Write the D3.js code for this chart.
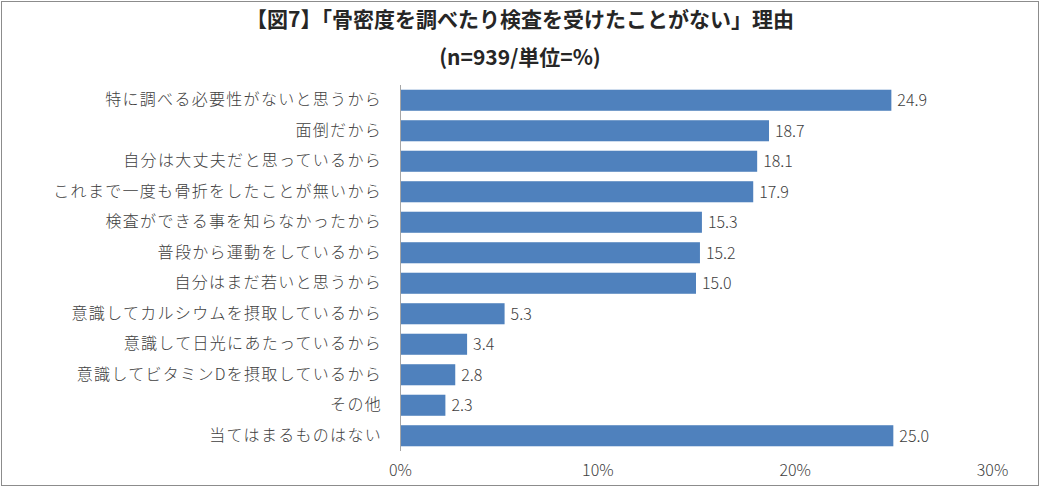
<!DOCTYPE html>
<html>
<head>
<meta charset="utf-8">
<script src="https://cdn.jsdelivr.net/npm/d3@7"></script>
<style>
  html, body { margin: 0; padding: 0; background: #fff; }
  svg { display: block; font-family: "Noto Sans CJK JP", "Noto Sans", sans-serif; }
</style>
</head>
<body>
<div id="chart"></div>
<script>
// chart data
var categories = [
  "特に調べる必要性がないと思うから",
  "面倒だから",
  "自分は大丈夫だと思っているから",
  "これまで一度も骨折をしたことが無いから",
  "検査ができる事を知らなかったから",
  "普段から運動をしているから",
  "自分はまだ若いと思うから",
  "意識してカルシウムを摂取しているから",
  "意識して日光にあたっているから",
  "意識してビタミンDを摂取しているから",
  "その他",
  "当てはまるものはない"
];
var values = [24.9, 18.7, 18.1, 17.9, 15.3, 15.2, 15.0, 5.3, 3.4, 2.8, 2.3, 25.0];
var xTicks = [0, 10, 20, 30];

var title = "【図7】「骨密度を調べたり検査を受けたことがない」理由";
var subtitle = "(n=939/単位=%)";

var W = 1040, H = 487;
var margin = {top: 85, right: 48, bottom: 36, left: 400};

var svg = d3.select("#chart")
  .append("svg")
  .attr("width", W)
  .attr("height", H);

// frame
svg.append("rect")
  .attr("x", 1.5).attr("y", 1.5)
  .attr("width", W - 3).attr("height", H - 3)
  .attr("fill", "#fff")
  .attr("stroke", "#8c8c8c")
  .attr("stroke-width", 1);

// titles
svg.append("text")
  .attr("x", W / 2).attr("y", 27)
  .attr("text-anchor", "middle")
  .attr("font-size", 21)
  .attr("font-weight", "bold")
  .attr("fill", "#262626")
  .text(title);

svg.append("text")
  .attr("x", W / 2).attr("y", 65)
  .attr("text-anchor", "middle")
  .attr("font-size", 21)
  .attr("font-weight", "bold")
  .attr("fill", "#262626")
  .text(subtitle);

var x = d3.scaleLinear()
  .domain([0, 30])
  .range([margin.left, margin.left + 592]);

var y = d3.scaleBand()
  .domain(categories)
  .range([margin.top, margin.top + 366])
  .paddingInner(0.31)
  .paddingOuter(0.155);

// bars
svg.append("g")
  .selectAll("rect")
  .data(values)
  .join("rect")
    .attr("x", x(0))
    .attr("y", function(d, i) { return y(categories[i]); })
    .attr("width", function(d) { return x(d) - x(0); })
    .attr("height", y.bandwidth())
    .attr("fill", "#4f81bd");

// value labels
svg.append("g")
  .selectAll("text")
  .data(values)
  .join("text")
    .attr("x", function(d) { return x(d) + 6; })
    .attr("y", function(d, i) { return y(categories[i]) + y.bandwidth() / 2; })
    .attr("dy", "0.36em")
    .attr("font-size", 16)
    .attr("font-weight", 300)
    .attr("fill", "#404040")
    .text(function(d) { return d.toFixed(1); });

// category axis
var yAxis = svg.append("g")
  .attr("transform", "translate(" + x(0) + ",0)")
  .call(d3.axisLeft(y).tickSize(0).tickPadding(18));
yAxis.select(".domain")
  .attr("stroke", "#a6a6a6")
  .attr("d", "M0.5," + margin.top + "V" + (margin.top + 366));
yAxis.selectAll("text")
  .attr("font-family", "\"Noto Sans CJK JP\", sans-serif")
  .attr("font-size", 16)
  .attr("font-weight", 300)
  .attr("letter-spacing", "1.3px")
  .attr("fill", "#404040");

// value axis (labels only)
var xAxis = svg.append("g")
  .attr("transform", "translate(0," + (margin.top + 366) + ")")
  .call(d3.axisBottom(x).tickValues(xTicks).tickSize(0).tickPadding(14)
    .tickFormat(function(d) { return d + "%"; }));
xAxis.select(".domain").remove();
xAxis.selectAll("text")
  .attr("font-family", "\"Noto Sans CJK JP\", sans-serif")
  .attr("font-size", 16)
  .attr("font-weight", 300)
  .attr("fill", "#404040");
</script>
</body>
</html>
